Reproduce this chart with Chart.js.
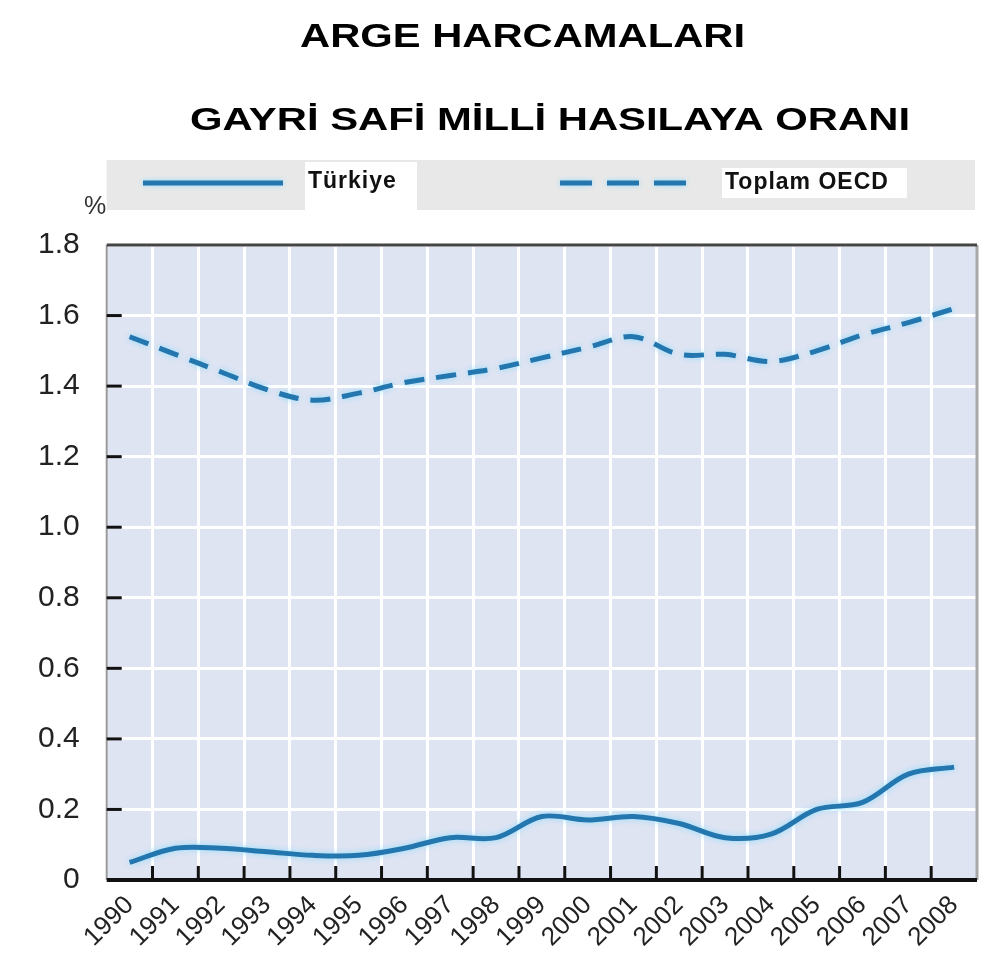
<!DOCTYPE html>
<html>
<head>
<meta charset="utf-8">
<script src="https://cdn.jsdelivr.net/npm/chart.js@4.4.1/dist/chart.umd.min.js"></script>
<style>
  html, body { margin: 0; padding: 0; background: #ffffff; }
  #wrap { width: 990px; height: 964px; }
</style>
</head>
<body>
<div id="wrap"><canvas id="argeChart" width="990" height="964"></canvas></div>
<script>
// ==================== DATA ====================
const years = ['1990', '1991', '1992', '1993', '1994', '1995', '1996', '1997', '1998', '1999',
               '2000', '2001', '2002', '2003', '2004', '2005', '2006', '2007', '2008'];
const turkiye = [0.05, 0.09, 0.09, 0.08, 0.07, 0.07, 0.09, 0.12, 0.12, 0.18,
                 0.17, 0.18, 0.16, 0.12, 0.13, 0.20, 0.22, 0.30, 0.32];
const oecd = [1.54, 1.49, 1.44, 1.39, 1.36, 1.38, 1.41, 1.43, 1.45, 1.48,
              1.51, 1.54, 1.49, 1.49, 1.47, 1.50, 1.545, 1.58, 1.62];
const yTicks = [0, 0.2, 0.4, 0.6, 0.8, 1.0, 1.2, 1.4, 1.6, 1.8];

const titleLines = ['ARGE HARCAMALARI', 'GAYRİ SAFİ MİLLİ HASILAYA ORANI'];
const seriesNames = ['Türkiye', 'Toplam OECD'];

const LINE_BLUE = '#2377ae';
const PLOT_BG = '#dfe4f2';
const FONT = '"Liberation Sans", Arial, sans-serif';

// stretched bold text, fitted to a given width
function wideText(ctx, text, x, y, size, width) {
    ctx.font = 'bold ' + size + 'px ' + FONT;
    const natural = ctx.measureText(text).width;
    ctx.save();
    ctx.translate(x, y);
    ctx.scale(width / natural, 1);
    ctx.fillText(text, 0, 0);
    ctx.restore();
}

// ==================== PLUGINS ====================
// plot background, header (titles, legend band, % unit)
const backdropPlugin = {
    id: 'backdrop',
    beforeDraw(chart) {
        const { ctx, chartArea: a } = chart;
        ctx.save();
        ctx.fillStyle = PLOT_BG;
        ctx.fillRect(a.left, a.top, a.right - a.left, a.bottom - a.top);

        // titles
        ctx.fillStyle = '#000';
        ctx.textBaseline = 'alphabetic';
        wideText(ctx, titleLines[0], 300, 47, 33, 445);
        wideText(ctx, titleLines[1], 190, 130, 31, 720);

        // legend band
        ctx.fillStyle = '#e8e8e8';
        ctx.fillRect(a.left, 160, a.right - a.left - 2, 50);
        ctx.fillStyle = '#ffffff';
        ctx.fillRect(305, 162, 112, 48);
        ctx.fillRect(722, 168, 185, 30);

        ctx.lineWidth = 5;
        ctx.strokeStyle = LINE_BLUE;
        ctx.shadowColor = 'rgba(140, 220, 255, 0.9)';
        ctx.shadowBlur = 5;
        ctx.beginPath();
        ctx.moveTo(143, 183);
        ctx.lineTo(283, 183);
        ctx.stroke();
        ctx.setLineDash([32, 15]);
        ctx.beginPath();
        ctx.moveTo(560, 183);
        ctx.lineTo(692, 183);
        ctx.stroke();
        ctx.setLineDash([]);
        ctx.shadowBlur = 0;
        ctx.shadowColor = 'transparent';

        ctx.fillStyle = '#111';
        ctx.letterSpacing = '1px';
        ctx.font = 'bold 23px ' + FONT;
        ctx.fillText(seriesNames[0], 308, 188);
        ctx.fillText(seriesNames[1], 725, 189);

        ctx.letterSpacing = '0px';
        ctx.fillStyle = '#333';
        ctx.font = '25px ' + FONT;
        ctx.fillText('%', 84, 214);
        ctx.restore();
    }
};

// glow round the lines
const glowPlugin = {
    id: 'glow',
    beforeDatasetsDraw(chart) {
        chart.ctx.save();
        chart.ctx.shadowColor = 'rgba(140, 220, 255, 0.95)';
        chart.ctx.shadowBlur = 6;
    },
    afterDatasetsDraw(chart) {
        chart.ctx.restore();
    }
};

// frame and inward tick marks
const framePlugin = {
    id: 'frame',
    afterDraw(chart) {
        const { ctx, chartArea: a, scales } = chart;
        const x = scales.x, y = scales.y;
        ctx.save();
        ctx.lineCap = 'butt';

        ctx.strokeStyle = '#999';
        ctx.lineWidth = 2;
        ctx.beginPath();
        ctx.moveTo(a.left, a.top);
        ctx.lineTo(a.left, a.bottom);
        ctx.stroke();

        ctx.strokeStyle = '#a8a8a8';
        ctx.lineWidth = 3;
        ctx.beginPath();
        ctx.moveTo(a.right, a.top);
        ctx.lineTo(a.right, a.bottom);
        ctx.stroke();

        ctx.strokeStyle = '#444';
        ctx.lineWidth = 3;
        ctx.beginPath();
        ctx.moveTo(a.left, a.top);
        ctx.lineTo(a.right, a.top);
        ctx.stroke();

        ctx.strokeStyle = '#111';
        ctx.lineWidth = 4;
        ctx.beginPath();
        ctx.moveTo(a.left, a.bottom);
        ctx.lineTo(a.right, a.bottom);
        ctx.stroke();

        // y ticks
        ctx.lineWidth = 3;
        yTicks.slice(1, -1).forEach(v => {
            const py = y.getPixelForValue(v);
            ctx.beginPath();
            ctx.moveTo(a.left, py);
            ctx.lineTo(a.left + 15, py);
            ctx.stroke();
        });

        // x ticks between categories
        for (let i = 1; i < years.length; i++) {
            const px = (x.getPixelForValue(i - 1) + x.getPixelForValue(i)) / 2;
            ctx.beginPath();
            ctx.moveTo(px, a.bottom);
            ctx.lineTo(px, a.bottom - 14);
            ctx.stroke();
        }
        ctx.restore();
    }
};

// ==================== CHART ====================
const ctx = document.getElementById('argeChart').getContext('2d');

const argeChart = new Chart(ctx, {
    type: 'line',
    data: {
        labels: years,
        datasets: [{
            label: seriesNames[0],
            data: turkiye,
            borderColor: LINE_BLUE,
            borderWidth: 5,
            tension: 0.35,
            pointRadius: 0,
            fill: false
        }, {
            label: seriesNames[1],
            data: oecd,
            borderColor: LINE_BLUE,
            borderWidth: 5,
            borderDash: [20, 12],
            tension: 0.35,
            pointRadius: 0,
            fill: false
        }]
    },
    options: {
        responsive: false,
        animation: false,
        layout: {
            padding: { top: 245, left: 11, right: 13, bottom: 0 }
        },
        scales: {
            x: {
                offset: true,
                afterFit(scale) {
                    // rotated labels may hang outside, like the original
                    scale.paddingLeft = 0;
                    scale.paddingRight = 0;
                    scale.height = 84;
                },
                grid: {
                    offset: true,
                    color: '#ffffff',
                    lineWidth: 3,
                    drawTicks: false
                },
                border: { display: false },
                ticks: {
                    autoSkip: false,
                    minRotation: 45,
                    maxRotation: 45,
                    padding: 10,
                    color: '#222',
                    font: { size: 26, family: FONT }
                }
            },
            y: {
                min: 0,
                max: 1.8,
                afterBuildTicks(scale) {
                    scale.ticks = yTicks.map(v => ({ value: v }));
                },
                grid: {
                    color: '#ffffff',
                    lineWidth: 3,
                    drawTicks: false
                },
                border: { display: false },
                ticks: {
                    padding: 27,
                    color: '#222',
                    font: { size: 30, family: FONT },
                    callback: v => (v === 0 ? '0' : v.toFixed(1))
                }
            }
        },
        plugins: {
            legend: { display: false },
            title: { display: false },
            tooltip: { enabled: false }
        }
    },
    plugins: [backdropPlugin, glowPlugin, framePlugin]
});

console.log('[ARGE] chart area', JSON.stringify(argeChart.chartArea));
</script>
</body>
</html>
